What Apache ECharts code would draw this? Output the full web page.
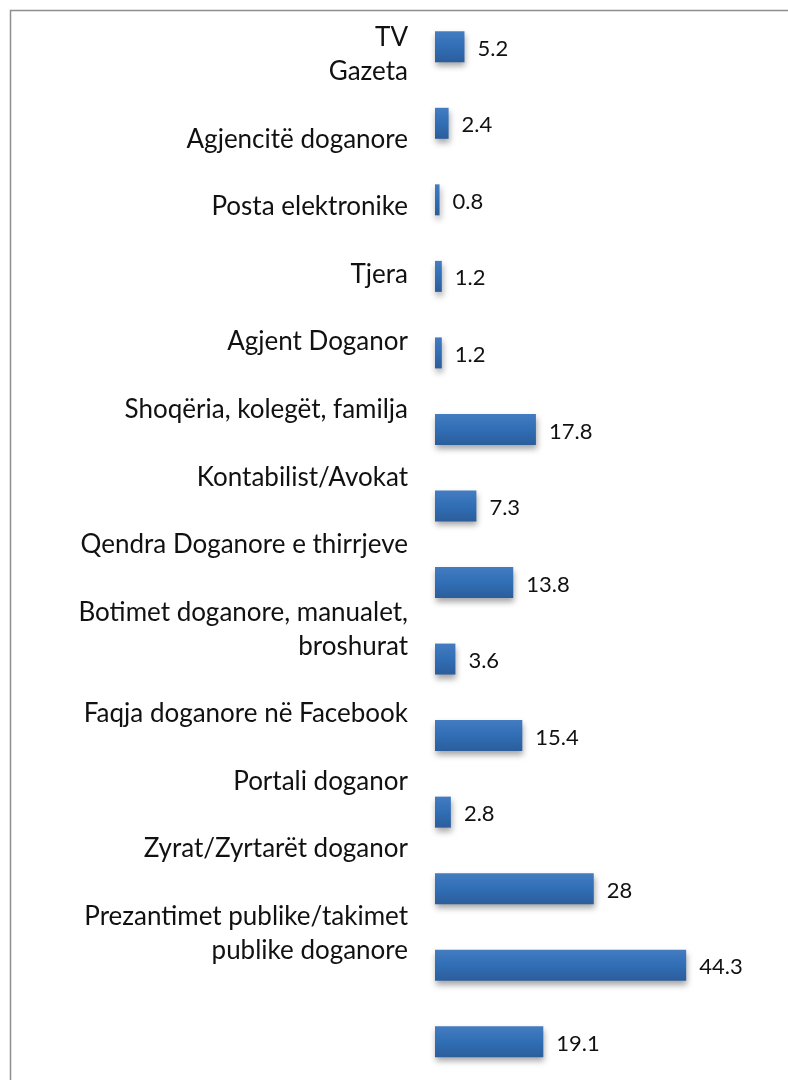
<!DOCTYPE html>
<html>
<head>
<meta charset="utf-8">
<script src="https://cdn.jsdelivr.net/npm/echarts@6/dist/echarts.min.js"></script>
<style>
  html, body { margin: 0; padding: 0; background: #fff; }
  #chart { width: 788px; height: 1080px; }
</style>
</head>
<body>
<div id="chart"></div>
<script>
// kanalet e informimit (renditja e shiritave nga lart poshte)
const channels = [
  'TV', 'Gazeta', 'Agjencitë doganore', 'Posta elektronike', 'Tjera',
  'Agjent Doganor', 'Shoqëria, kolegët, familja', 'Kontabilist/Avokat',
  'Qendra Doganore e thirrjeve', 'Botimet doganore, manualet, broshurat',
  'Faqja doganore në Facebook', 'Portali doganor', 'Zyrat/Zyrtarët doganor',
  'Prezantimet publike/takimet publike doganore'
]
const shares = [5.2, 2.4, 0.8, 1.2, 1.2, 17.8, 7.3, 13.8, 3.6, 15.4, 2.8, 28, 44.3, 19.1]

// rreshtat e etiketave ashtu si dalin ne grafik (rreshtat bosh = hapesire)
const labelLines = [
  'TV', 'Gazeta', '', 'Agjencitë doganore', '', 'Posta elektronike', '',
  'Tjera', '', 'Agjent Doganor', '', 'Shoqëria, kolegët, familja', '',
  'Kontabilist/Avokat', '', 'Qendra Doganore e thirrjeve', '',
  'Botimet doganore, manualet,', 'broshurat', '', 'Faqja doganore në Facebook', '',
  'Portali doganor', '', 'Zyrat/Zyrtarët doganor', '',
  'Prezantimet publike/takimet', 'publike doganore'
]

const font = 'Lato, "Liberation Sans", sans-serif'
const chart = echarts.init(document.getElementById('chart'))

chart.setOption({
  animation: false,
  backgroundColor: '#fff',
  graphic: [{
    type: 'rect',
    shape: { x: 10.5, y: 10.5, width: 800, height: 1100 },
    style: { fill: 'none', stroke: '#8e8e8e', lineWidth: 1.5 },
    silent: true
  }],
  grid: [
    { left: 435, top: 8.5, width: 283.5, height: 1078 },
    { left: 435, top: 21, width: 100, height: 946.4 }
  ],
  xAxis: [
    { gridIndex: 0, type: 'value', min: 0, max: 50, show: false },
    { gridIndex: 1, type: 'value', show: false }
  ],
  yAxis: [
    {
      gridIndex: 0,
      type: 'category',
      inverse: true,
      data: channels,
      axisLine: { show: false },
      axisTick: { show: false },
      axisLabel: { show: false },
      splitLine: { show: false }
    },
    {
      gridIndex: 1,
      type: 'category',
      inverse: true,
      data: labelLines,
      axisLine: { show: false },
      axisTick: { show: false },
      splitLine: { show: false },
      axisLabel: {
        interval: 0,
        margin: 27,
        fontSize: 26,
        fontFamily: font,
        color: '#111'
      }
    }
  ],
  series: [{
    type: 'bar',
    xAxisIndex: 0,
    yAxisIndex: 0,
    data: shares,
    barWidth: 31,
    itemStyle: {
      color: new echarts.graphic.LinearGradient(0, 0, 0, 1, [
        { offset: 0, color: '#447cc1' },
        { offset: 0.5, color: '#306eb5' },
        { offset: 1, color: '#2c5d9b' }
      ]),
      shadowColor: 'rgba(0,0,0,0.35)',
      shadowBlur: 6,
      shadowOffsetX: 1,
      shadowOffsetY: 4
    },
    label: {
      show: true,
      position: 'right',
      distance: 13,
      offset: [0, 2],
      fontSize: 22,
      fontFamily: font,
      color: '#111'
    }
  }]
})
</script>
</body>
</html>
